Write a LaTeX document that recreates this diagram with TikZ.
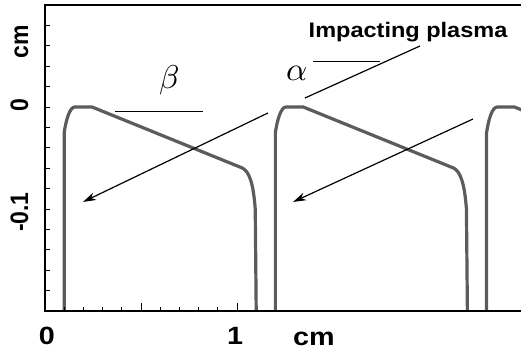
\documentclass[tikz,border=0pt]{standalone}
\usepackage{unicode-math}
\setmainfont{Liberation Sans}
\usetikzlibrary{arrows.meta}
\definecolor{wallgray}{RGB}{92,92,92}
\tikzset{
  wall/.style={draw=wallgray, line width=3.2pt, line join=round},
  ray/.style={draw=black, line width=1.2pt, -{Stealth[length=13pt,width=8pt,inset=4pt]}},
  guide/.style={draw=black, line width=0.8pt},
  axislabel/.style={font=\fontsize{25}{29}\selectfont\bfseries, inner sep=0pt},
  sidelabel/.style={font=\fontsize{23}{27}\selectfont\bfseries, inner sep=0pt, rotate=90, anchor=base},
  greeklabel/.style={font=\fontsize{33}{38}\selectfont, inner sep=0pt},
}
\begin{document}
\begin{tikzpicture}[x=192pt, y=1020pt]
\useasboundingbox (-0.2344,-0.2412) rectangle (2.4792,0.1049);
% wall profiles, one per period
\begin{scope}
\clip (0,-0.2) rectangle (2.4792,0.1);
\foreach \xo in {0.1,1.2,2.3}
  \draw [wall, shift={(\xo,0)}] (0,-0.2) -- (0,-0.025)
    .. controls (0.01,-0.012) and (0.03,0) .. (0.055,0) -- (0.145,0)
    -- (0.93,-0.06) .. controls (0.965,-0.064) and (0.985,-0.075) .. (0.995,-0.1)
    -- (1.0,-0.2);
\end{scope}
% frame and ticks
\draw [line width=2pt] (2.4792,0.1) -- (0,0.1) -- (0,-0.2) -- (2.4792,-0.2);
\foreach \k in {1,...,14}
  \draw [line width=1pt] (0,{0.1-\k*0.02}) -- ++(5pt,0);
\foreach \k in {1,2,3,4,6,7,8,9}
  \draw [line width=1pt] (\k/10,-0.2) -- ++(0,4pt);
\foreach \k in {0.5,1}
  \draw [line width=1pt] (\k,-0.2) -- ++(0,8pt);
% axis labels
\node[axislabel] (x0) at (0.01,-0.2245) {\scalebox{1.15}[1]{0}};
\node[axislabel] (x1) at (0.99,-0.2245) {\scalebox{1.15}[1]{1}};
\node[axislabel] (xcm) at (1.401,-0.2275) {\scalebox{1.15}[1]{cm}};
\node[sidelabel] (ycm) at (-0.0885,0.0637) {\scalebox{1}[1.1]{cm}};
\node[sidelabel] (y0) at (-0.0885,0.002) {\scalebox{1}[1.1]{0}};
\node[sidelabel] (y1) at (-0.0885,-0.103) {\scalebox{1}[1.1]{-0.1}};
% plasma and angles
\node[font=\fontsize{21}{25}\selectfont\bfseries, inner sep=0pt, anchor=base] (plasma)
  at (1.891,0.0686) {\scalebox{1.12}[1]{Impacting plasma}};
\node[greeklabel] (alpha) at (1.3125,0.0333) {$\alpha$};
\node[greeklabel] (beta) at (0.646,0.0265) {$\beta$};
\coordinate (ray1s) at (1.161,-0.0059);
\coordinate (ray1e) at (0.198,-0.0931);
\coordinate (ray2s) at (2.229,-0.0118);
\coordinate (ray2e) at (1.292,-0.0931);
\coordinate (incs) at (1.953,0.0598);
\coordinate (ince) at (1.354,0.0088);
\coordinate (alphal) at (1.396,0.0451);
\coordinate (alphar) at (1.745,0.0451);
\coordinate (betal) at (0.365,-0.0039);
\coordinate (betar) at (0.823,-0.0039);
\draw [ray] (ray1s) -- (ray1e);
\draw [ray] (ray2s) -- (ray2e);
\draw [draw=black, line width=1.2pt] (incs) -- (ince);
\draw [guide] (alphal) -- (alphar);
\draw [guide] (betal) -- (betar);
\end{tikzpicture}
\end{document}
